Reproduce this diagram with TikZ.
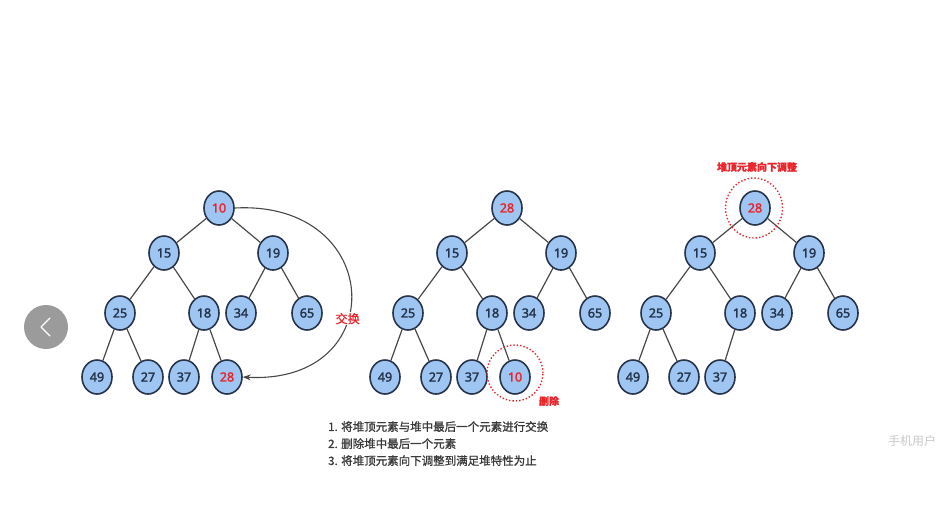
\documentclass[tikz,border=0pt]{standalone}
\usepackage{fontspec}
\setmainfont{Noto Sans}
\newfontfamily\numfont{Noto Sans}[FakeBold=2.2]
\newfontfamily\cjk{Noto Sans CJK SC}[FakeBold=1.2]
\newfontfamily\cjkplain{Noto Sans CJK SC}
\usetikzlibrary{arrows.meta,shapes.geometric}
\definecolor{nodefill}{HTML}{9FC6F3}
\definecolor{nodeborder}{HTML}{28344A}
\definecolor{edgegray}{HTML}{484848}
\definecolor{keyred}{HTML}{E8262B}
\definecolor{numcolor}{HTML}{24344A}
\definecolor{stepgray}{HTML}{3A3A3A}
\definecolor{btngray}{HTML}{9B9B9B}
\definecolor{wmgray}{HTML}{C8C8C8}

\begin{document}
\begin{tikzpicture}[
    x=1pt, y=-1pt,
    >=Stealth,
    heapnode/.style={
        ellipse, draw=nodeborder, fill=nodefill, line width=1.6pt,
        minimum width=30pt, minimum height=34pt, inner sep=0pt,
        font=\numfont\fontsize{12.5}{12.5}\selectfont, text=numcolor
    },
    hotnode/.style={heapnode, text=keyred},
    heapedge/.style={edgegray, line width=1.2pt},
    swaparrow/.style={->, edgegray, line width=1.1pt},
    markring/.style={draw=keyred, dotted, line width=1.4pt},
    redlabel/.style={font=\cjk\fontsize{10}{10}\selectfont\bfseries, text=keyred, inner sep=1pt},
    steptext/.style={font=\cjk\fontsize{11.5}{17}\selectfont, text=stepgray, align=left, anchor=north west, inner sep=0pt},
]
\useasboundingbox (0,0) rectangle (949,507);

% ===== Tree 1: before swap =====
\node[hotnode]  (a10) at (219,208) {10};
\node[heapnode] (a15) at (164,253) {15};
\node[heapnode] (a19) at (273,253) {19};
\node[heapnode] (a25) at (120,313) {25};
\node[heapnode] (a18) at (204,313) {18};
\node[heapnode] (a34) at (241,313) {34};
\node[heapnode] (a65) at (307,313) {65};
\node[heapnode] (a49) at (97,377) {49};
\node[heapnode] (a27) at (148,377) {27};
\node[heapnode] (a37) at (184,377) {37};
\node[hotnode]  (a28) at (227,377) {28};

\draw[heapedge] (a10) -- (a15);
\draw[heapedge] (a10) -- (a19);
\draw[heapedge] (a15) -- (a25);
\draw[heapedge] (a15) -- (a18);
\draw[heapedge] (a19) -- (a34);
\draw[heapedge] (a19) -- (a65);
\draw[heapedge] (a25) -- (a49);
\draw[heapedge] (a25) -- (a27);
\draw[heapedge] (a18) -- (a37);
\draw[heapedge] (a18) -- (a28);

% swap arrow
\draw[swaparrow] (a10.east) .. controls (385,200) and (392,385) .. (a28.east)
    node[redlabel, pos=0.6, fill=white, font=\cjk\fontsize{12}{12}\selectfont] (swaplbl) {交换};

% ===== Tree 2: after swap =====
\node[hotnode]  (b28) at (507,208) {28};
\node[heapnode] (b15) at (452,253) {15};
\node[heapnode] (b19) at (561,253) {19};
\node[heapnode] (b25) at (408,313) {25};
\node[heapnode] (b18) at (492,313) {18};
\node[heapnode] (b34) at (529,313) {34};
\node[heapnode] (b65) at (595,313) {65};
\node[heapnode] (b49) at (385,377) {49};
\node[heapnode] (b27) at (436,377) {27};
\node[heapnode] (b37) at (472,377) {37};
\node[hotnode]  (b10) at (515,377) {10};

\draw[heapedge] (b28) -- (b15);
\draw[heapedge] (b28) -- (b19);
\draw[heapedge] (b15) -- (b25);
\draw[heapedge] (b15) -- (b18);
\draw[heapedge] (b19) -- (b34);
\draw[heapedge] (b19) -- (b65);
\draw[heapedge] (b25) -- (b49);
\draw[heapedge] (b25) -- (b27);
\draw[heapedge] (b18) -- (b37);
\draw[heapedge] (b18) -- (b10);

% delete mark
\node[markring, circle, minimum size=56pt] (delring) at (515,373) {};
\node[redlabel] (dellbl) at (549,401) {删除};

% ===== Tree 3: after delete =====
\node[hotnode]  (c28) at (755,208) {28};
\node[heapnode] (c15) at (700,253) {15};
\node[heapnode] (c19) at (809,253) {19};
\node[heapnode] (c25) at (656,313) {25};
\node[heapnode] (c18) at (740,313) {18};
\node[heapnode] (c34) at (777,313) {34};
\node[heapnode] (c65) at (843,313) {65};
\node[heapnode] (c49) at (633,377) {49};
\node[heapnode] (c27) at (684,377) {27};
\node[heapnode] (c37) at (720,377) {37};

\draw[heapedge] (c28) -- (c15);
\draw[heapedge] (c28) -- (c19);
\draw[heapedge] (c15) -- (c25);
\draw[heapedge] (c15) -- (c18);
\draw[heapedge] (c19) -- (c34);
\draw[heapedge] (c19) -- (c65);
\draw[heapedge] (c25) -- (c49);
\draw[heapedge] (c25) -- (c27);
\draw[heapedge] (c18) -- (c37);

% sift-down mark
\node[markring, ellipse, minimum width=57pt, minimum height=60pt] (siftring) at (754,208) {};
\node[redlabel] (siftlbl) at (757,167) {堆顶元素向下调整};

% ===== Steps =====
\node[steptext] (steps) at (328,421) {%
    1. 将堆顶元素与堆中最后一个元素进行交换\\
    2. 删除堆中最后一个元素\\
    3. 将堆顶元素向下调整到满足堆特性为止};

% ===== Screen overlay =====
\node[circle, fill=btngray, minimum size=44pt, inner sep=0pt] (backbtn) at (46,327) {};
\draw[white, line width=1.3pt, line cap=round, line join=round]
    ([shift={(4,-9)}]backbtn.center) -- ([shift={(-5,0)}]backbtn.center) -- ([shift={(4,9)}]backbtn.center);
\node[font=\cjkplain\fontsize{12}{12}\selectfont, text=wmgray] (wmark) at (912,441) {手机用户};

\end{tikzpicture}
\end{document}
